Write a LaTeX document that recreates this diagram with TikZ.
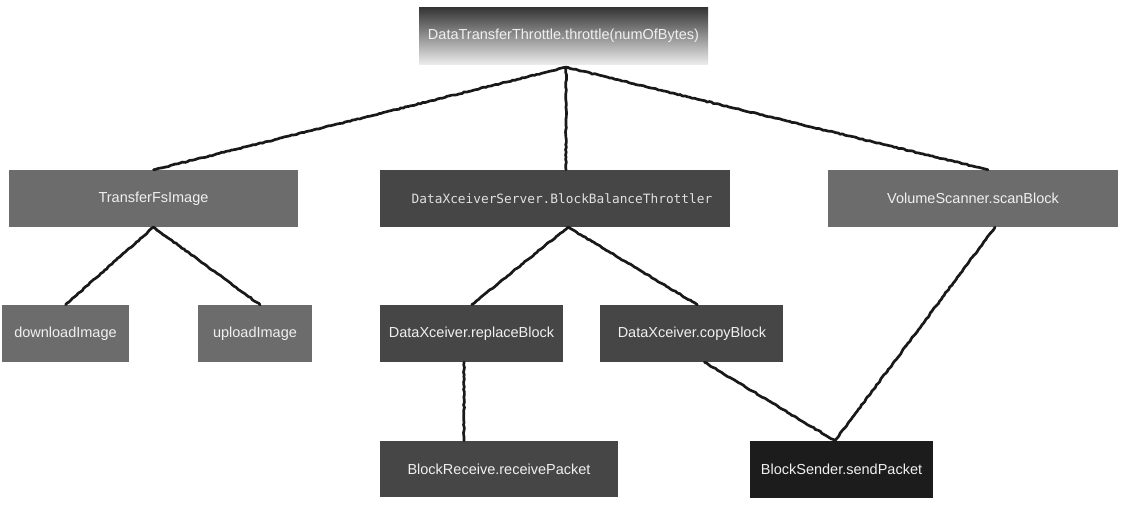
\documentclass[tikz,border=0pt]{standalone}
\usepackage{fontspec}
\setmainfont{Liberation Sans}
\setmonofont{DejaVu Sans Mono}
\usetikzlibrary{positioning,calc,decorations.pathmorphing}
\definecolor{boxmid}{HTML}{6C6C6C}
\definecolor{boxdark}{HTML}{464646}
\definecolor{boxblack}{HTML}{1C1C1C}

\begin{document}
\begin{tikzpicture}[x=1pt,y=-1pt,
    thbox/.style={fill=boxmid,text=white!94!black,minimum height=57pt,inner sep=0pt,
        font=\fontsize{14.5}{17}\selectfont},
    thdark/.style={thbox,fill=boxdark},
    thblack/.style={thbox,fill=boxblack},
    thline/.style={draw=black!90,line width=2.7pt,line cap=round,
        decorate,decoration={random steps,segment length=2.5pt,amplitude=0.5pt}}
]
\fill[white] (0,0) rectangle (1122,506);
\useasboundingbox (0,0) rectangle (1122,506);
% top of the call tree
\node[thbox,minimum width=289pt,top color=black!80,bottom color=black!8] (throttle) at (563.5,35.5)
    {DataTransferThrottle.throttle(numOfBytes)};
% callers
\node[thbox,minimum width=289pt] (fsimage) at (153.5,198.5) {TransferFsImage};
\node[thdark,minimum width=350pt,text=black!12,font=\ttfamily\fontsize{12.8}{15}\selectfont] (server) at (555,198.5)
    {\hspace{14pt}DataXceiverServer.BlockBalanceThrottler};
\node[thbox,minimum width=290pt] (scanner) at (973,198.5) {VolumeScanner.scanBlock};
\node[thbox,minimum width=127pt] (download) at (65.5,333.5) {downloadImage};
\node[thbox,minimum width=114pt] (upload) at (255,333.5) {uploadImage};
\node[thdark,minimum width=183pt] (replace) at (471.5,333.5) {DataXceiver.replaceBlock};
\node[thdark,minimum width=183pt,right=37pt of replace] (copy) {DataXceiver.copyBlock};
\node[thdark,minimum width=238pt,minimum height=56pt] (receive) at (499,469) {BlockReceive.receivePacket};
\node[thblack,minimum width=183pt] (sender) at (841.5,469.5) {BlockSender.sendPacket};
% links
\draw[thline] ([xshift=2.5pt,yshift=-3pt]throttle.south) -- (fsimage.north);
\draw[thline] ([xshift=2.5pt,yshift=-3pt]throttle.south) -- ([xshift=11pt]server.north);
\draw[thline] ([xshift=2.5pt,yshift=-3pt]throttle.south) -- ([xshift=15pt]scanner.north);
\draw[thline] (fsimage.south) -- (download.north);
\draw[thline] (fsimage.south) -- ([xshift=5pt]upload.north);
\draw[thline] ([xshift=13pt]server.south) -- (replace.north);
\draw[thline] ([xshift=13pt]server.south) -- ([xshift=5.5pt]copy.north);
\draw[thline] ([xshift=-7.5pt]replace.south) -- ([xshift=-7.5pt]replace.south |- receive.north);
\draw[thline] ([xshift=12.5pt]copy.south) -- ([xshift=-6.5pt]sender.north);
\draw[thline] ([xshift=22pt]scanner.south) -- ([xshift=-6.5pt]sender.north);
\end{tikzpicture}
\end{document}
